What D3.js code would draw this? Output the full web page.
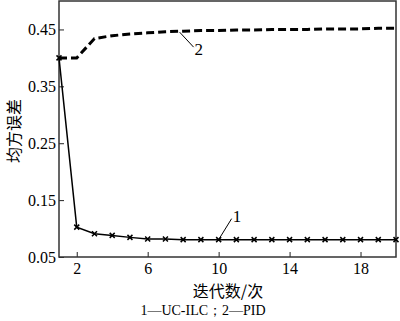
<!DOCTYPE html>
<html>
<head>
<meta charset="utf-8">
<script src="https://cdn.jsdelivr.net/npm/d3@7"></script>
<style>
  body { margin: 0; background: #fff; }
  svg { display: block; }
</style>
</head>
<body>
<script>
// iteration numbers and the two error series
const iterations = d3.range(1, 21);
const ucIlc = [0.400, 0.1025, 0.091, 0.088, 0.0845, 0.0815, 0.0815, 0.0805, 0.0805, 0.0805,
               0.0805, 0.0805, 0.0805, 0.0805, 0.0805, 0.0805, 0.0805, 0.0805, 0.0805, 0.0805];
const pid = [0.400, 0.400, 0.434, 0.439, 0.442, 0.444, 0.446, 0.447, 0.448, 0.448,
             0.449, 0.449, 0.450, 0.450, 0.450, 0.451, 0.451, 0.451, 0.452, 0.452];
const xTicks = [2, 6, 10, 14, 18];
const yTicks = [0.05, 0.15, 0.25, 0.35, 0.45];

const width = 400, height = 321;
const margin = { top: 1, right: 4, bottom: 64, left: 59 };
const innerW = width - margin.left - margin.right;
const innerH = height - margin.top - margin.bottom;

const svg = d3.select("body").append("svg")
  .attr("width", width).attr("height", height);

const g = svg.append("g")
  .attr("transform", `translate(${margin.left},${margin.top})`);

const x = d3.scaleLinear().domain([1, 20]).range([0, innerW]);
const y = d3.scaleLinear().domain([0.05, 0.5]).range([innerH, 0]);

const numFont = "'Liberation Serif', 'Times New Roman', serif";
const cjkFont = "'Noto Sans CJK SC', sans-serif";

// axes with ticks pointing inward
const xAxis = g.append("g")
  .attr("transform", `translate(0,${innerH})`)
  .call(d3.axisBottom(x).tickValues(xTicks).tickSizeInner(-5).tickSizeOuter(0).tickPadding(6));
const yAxis = g.append("g")
  .call(d3.axisLeft(y).tickValues(yTicks).tickFormat(d3.format(".2f")).tickSizeInner(-5).tickSizeOuter(0).tickPadding(3));

[xAxis, yAxis].forEach(a => {
  a.selectAll("text").attr("font-family", numFont).attr("font-size", 16).attr("fill", "#000");
  a.selectAll("line").attr("stroke", "#222");
  a.select(".domain").remove();
});

// frame
g.append("rect")
  .attr("x", 0).attr("y", 0).attr("width", innerW).attr("height", innerH)
  .attr("fill", "none").attr("stroke", "#333").attr("stroke-width", 1.5);

// PID dashed line
const line = d3.line().x((d, i) => x(iterations[i])).y(d => y(d));
g.append("path").datum(pid)
  .attr("d", line).attr("fill", "none")
  .attr("stroke", "#000").attr("stroke-width", 3)
  .attr("stroke-dasharray", "8,4");

// UC-ILC solid line with x markers
g.append("path").datum(ucIlc)
  .attr("d", line).attr("fill", "none")
  .attr("stroke", "#000").attr("stroke-width", 1.5);

g.selectAll(".mk").data(ucIlc).enter().append("path")
  .attr("class", "mk")
  .attr("transform", (d, i) => `translate(${x(iterations[i])},${y(d)})`)
  .attr("d", "M-2.5,-2.5L2.5,2.5M-2.5,2.5L2.5,-2.5")
  .attr("stroke", "#000").attr("stroke-width", 1.5);

// curve labels with leader lines
g.append("line")
  .attr("x1", x(10)).attr("y1", y(ucIlc[9]))
  .attr("x2", x(10) + 13).attr("y2", y(ucIlc[9]) - 21)
  .attr("stroke", "#000").attr("stroke-width", 1);
g.append("text")
  .attr("x", x(10) + 14).attr("y", y(ucIlc[9]) - 18)
  .attr("font-family", numFont).attr("font-size", 17).text("1");

g.append("line")
  .attr("x1", x(7.8)).attr("y1", y(pid[7]) + 1)
  .attr("x2", x(7.8) + 14).attr("y2", y(pid[7]) + 16)
  .attr("stroke", "#000").attr("stroke-width", 1);
g.append("text")
  .attr("x", x(7.8) + 15).attr("y", y(pid[7]) + 24)
  .attr("font-family", numFont).attr("font-size", 17).text("2");

// axis titles
svg.append("text")
  .attr("transform", `translate(20,131) rotate(-90)`)
  .attr("text-anchor", "middle")
  .attr("font-family", cjkFont).attr("font-size", 16)
  .text("均方误差");

svg.append("text")
  .attr("x", 228).attr("y", 297)
  .attr("text-anchor", "middle")
  .attr("font-family", cjkFont).attr("font-size", 16)
  .text("迭代数/次");

svg.append("text")
  .attr("x", 203).attr("y", 315)
  .attr("text-anchor", "middle")
  .attr("font-family", numFont).attr("font-size", 14)
  .text("1—UC-ILC；2—PID");
</script>
</body>
</html>
